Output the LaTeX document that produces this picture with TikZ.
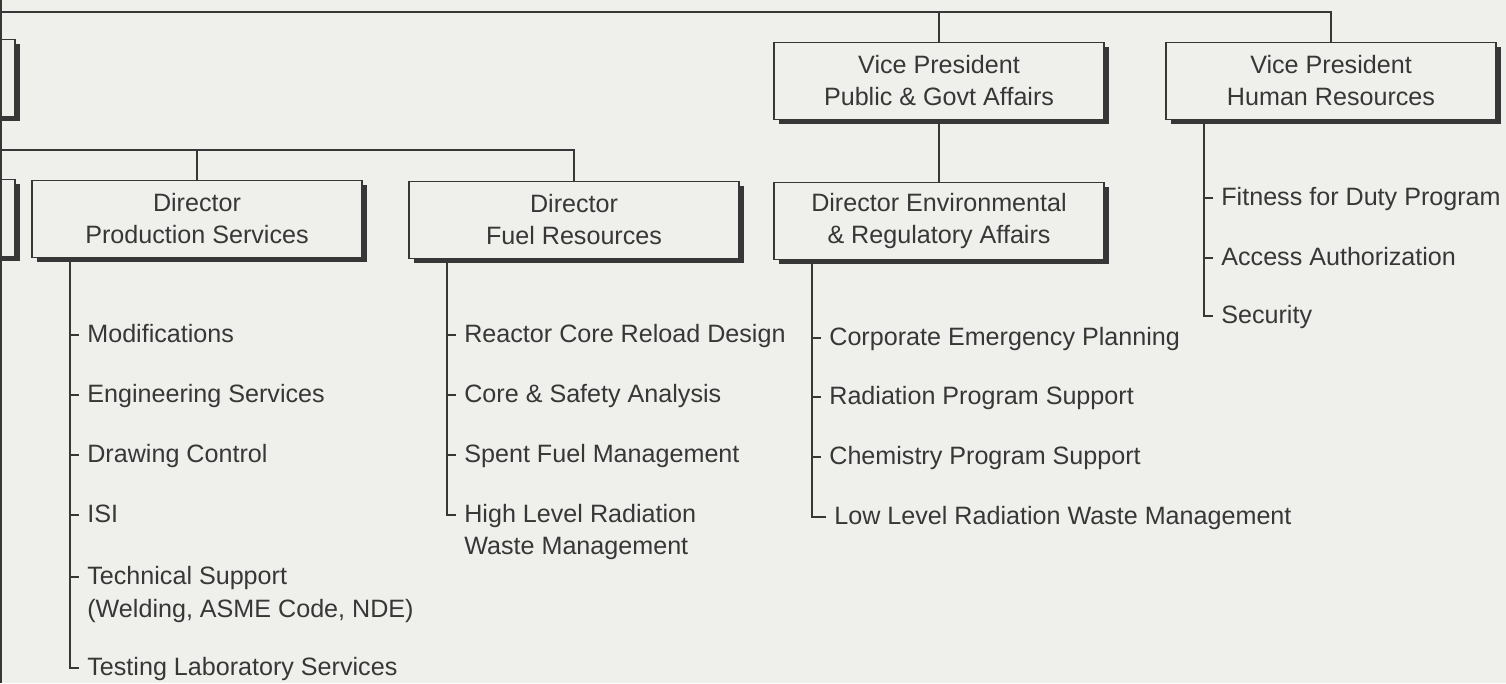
\documentclass[tikz,border=0pt]{standalone}
\usepackage{fontspec}
\setmainfont{Liberation Sans}
\usetikzlibrary{calc,shadows}
\definecolor{paper}{RGB}{239,239,236}
\definecolor{ink}{RGB}{55,55,55}
\tikzset{
  office/.style={draw=ink, line width=0.9pt, fill=paper, text=ink, align=center,
    minimum width=6.6cm, minimum height=1.54cm,
    drop shadow={shadow xshift=2.6pt, shadow yshift=-2.6pt, fill=ink, opacity=1}},
  duty/.style={anchor=west, inner xsep=0.16cm, inner ysep=0pt, text=ink,
    text height=10.3pt, text depth=2.2pt},
  wire/.style={draw=ink, line width=0.9pt},
}
\begin{document}
\begin{tikzpicture}[x=0.02cm, y=-0.02cm, font=\fontsize{14.3}{18.2}\selectfont]
    \useasboundingbox (0,0) rectangle (1506,683);
    \fill[paper] (0,0) rectangle (1506,683);
    \clip (0,0) rectangle (1506,683);

    % boxes running off the left edge
    \node[office] (left1) at (-150,78) {};
    \node[office] (left2) at (-150,218) {};

    % vice presidents
    \node[office] (vpPub) at (939,81) {Vice President\\Public \& Govt Affairs};
    \node[office] (vpHR) at (1331,81) {Vice President\\Human Resources};

    % directors
    \node[office] (dirProd) at (197,219) {Director\\Production Services};
    \node[office] (dirFuel) at (574,220) {Director\\Fuel Resources};
    \node[office] (dirEnv) at (939,221) {Director Environmental\\\& Regulatory Affairs};

    % reporting lines
    \coordinate (busA) at (1,12);
    \coordinate (busB) at (1,150);
    \draw[wire] (1,0) -- (1,683);
    \draw[wire] (busA) -| (vpHR.north);
    \draw[wire] (vpPub.north |- busA) -- (vpPub.north);
    \draw[wire] (busB) -| (dirFuel.north);
    \draw[wire] (dirProd.north |- busB) -- (dirProd.north);
    \draw[wire] (vpPub.south) -- (dirEnv.north);

    % production services
    \coordinate (sProd) at ($(dirProd.south west)+(39,0)$);
    \node[duty] (p1) at (79,335) {Modifications};
    \node[duty] (p2) at (79,395) {Engineering Services};
    \node[duty] (p3) at (79,455) {Drawing Control};
    \node[duty] (p4) at (79,515) {ISI};
    \node[duty] (p5) at (79,577) {Technical Support};
    \node[duty] (p5b) at (79,610) {(Welding, ASME Code, NDE)};
    \node[duty] (p6) at (79,668) {Testing Laboratory Services};
    \foreach \n in {p1,p2,p3,p4,p5}
        \draw[wire] (sProd |- \n.west) -- (\n.west);
    \draw[wire] (sProd) |- (p6.west);

    % fuel resources
    \coordinate (sFuel) at ($(dirFuel.south west)+(39,0)$);
    \node[duty] (f1) at (456,335) {Reactor Core Reload Design};
    \node[duty] (f2) at (456,395) {Core \& Safety Analysis};
    \node[duty] (f3) at (456,455) {Spent Fuel Management};
    \node[duty] (f4) at (456,515) {High Level Radiation};
    \node[duty] (f4b) at (456,547) {Waste Management};
    \foreach \n in {f1,f2,f3}
        \draw[wire] (sFuel |- \n.west) -- (\n.west);
    \draw[wire] (sFuel) |- (f4.west);

    % environmental & regulatory affairs
    \coordinate (sEnv) at ($(dirEnv.south west)+(39,0)$);
    \node[duty] (e1) at (821,338) {Corporate Emergency Planning};
    \node[duty] (e2) at (821,397) {Radiation Program Support};
    \node[duty] (e3) at (821,457) {Chemistry Program Support};
    \node[duty] (e4) at (826,517) {Low Level Radiation Waste Management};
    \foreach \n in {e1,e2,e3}
        \draw[wire] (sEnv |- \n.west) -- (\n.west);
    \draw[wire] (sEnv) |- (e4.west);

    % human resources
    \coordinate (sHR) at ($(vpHR.south west)+(39,0)$);
    \node[duty] (h1) at (1213,198) {Fitness for Duty Program};
    \node[duty] (h2) at (1213,258) {Access Authorization};
    \node[duty] (h3) at (1213,316) {Security};
    \foreach \n in {h1,h2}
        \draw[wire] (sHR |- \n.west) -- (\n.west);
    \draw[wire] (sHR) |- (h3.west);
\end{tikzpicture}
\end{document}
